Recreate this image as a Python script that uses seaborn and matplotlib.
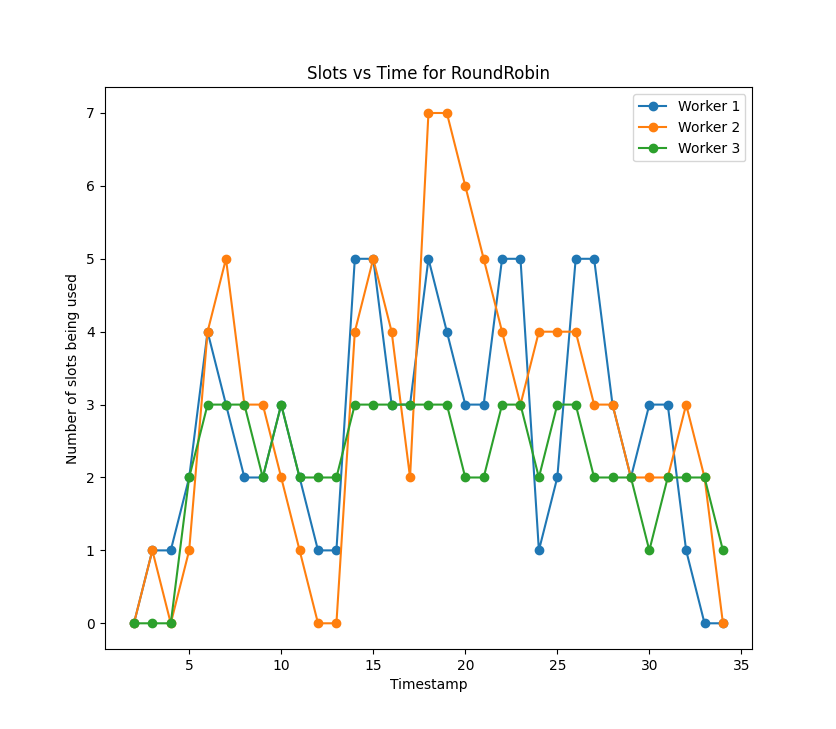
import matplotlib
matplotlib.use("Agg")
import matplotlib.pyplot as plt
import pandas as pd
import seaborn as sns

timestamps = list(range(2, 35))
worker1 = [0, 1, 1, 2, 4, 3, 2, 2, 3, 2, 1, 1, 5, 5, 3, 3, 5, 4, 3, 3, 5, 5, 1, 2, 5, 5, 3, 2, 3, 3, 1, 0, 0]
worker2 = [0, 1, 0, 1, 4, 5, 3, 3, 2, 1, 0, 0, 4, 5, 4, 2, 7, 7, 6, 5, 4, 3, 4, 4, 4, 3, 3, 2, 2, 2, 3, 2, 0]
worker3 = [0, 0, 0, 2, 3, 3, 3, 2, 3, 2, 2, 2, 3, 3, 3, 3, 3, 3, 2, 2, 3, 3, 2, 3, 3, 2, 2, 2, 1, 2, 2, 2, 1]
labels = ["Worker 1", "Worker 2", "Worker 3"]
colors = ["#1f77b4", "#ff7f0e", "#2ca02c"]

fig, ax = plt.subplots(figsize=(8.36, 7.29), dpi=100)

for name, vals, c in zip(labels, [worker1, worker2, worker3], colors):
    df = pd.DataFrame({"Timestamp": timestamps, "slots": vals})
    sns.lineplot(data=df, x="Timestamp", y="slots", ax=ax, color=c, label=name,
                 marker="o", markersize=6, markeredgecolor=c, markeredgewidth=1,
                 linewidth=1.5)

ax.set_title("Slots vs Time for RoundRobin")
ax.set_xlabel("Timestamp")
ax.set_ylabel("Number of slots being used")
ax.legend(loc="upper right")

fig.savefig("out.png", dpi=100)
